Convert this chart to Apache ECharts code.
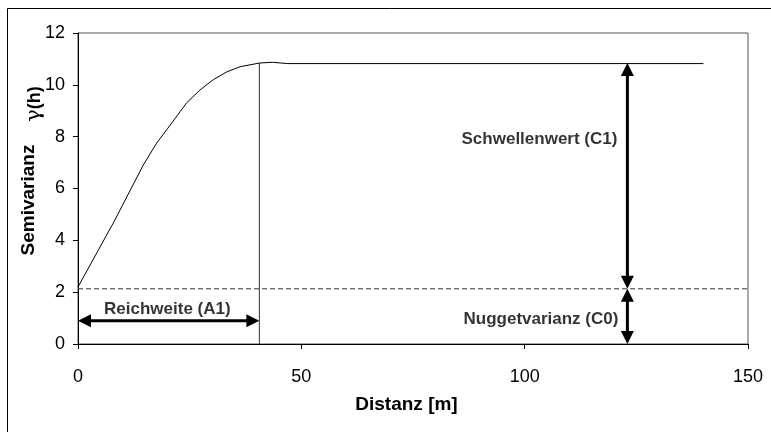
<!DOCTYPE html>
<html>
<head>
<meta charset="utf-8">
<script src="https://cdn.jsdelivr.net/npm/echarts@6/dist/echarts.min.js"></script>
<style>html,body{margin:0;padding:0;background:#fff;}#c{width:771px;height:432px;}</style>
</head>
<body>
<div id="c"></div>
<script>
// Data
const xTicks = [0, 50, 100, 150];
const yTicks = [0, 2, 4, 6, 8, 10, 12];
const distance = [0, 8, 14.6, 17.6, 20, 24.3, 27.3, 30.3, 33.3, 36.3, 40.6, 43.5, 47, 140];
const semivariance = [2.2, 4.7, 6.9, 7.75, 8.3, 9.3, 9.8, 10.2, 10.5, 10.7, 10.84, 10.87, 10.82, 10.82];
const nugget = 2.13;
const sill = 10.84;
const range = 40.6;
const arrowX = 123;
const rangeArrowY = 0.9;
// arrows: [x1, y1, x2, y2]
const arrows = [
  [0, rangeArrowY, range, rangeArrowY],
  [arrowX, nugget, arrowX, sill],
  [arrowX, 0, arrowX, nugget]
];
const labelTexts = ['Reichweite (A1)', 'Schwellenwert (C1)', 'Nuggetvarianz (C0)'];
const labelPos = [[20.0, 1.34], [arrowX, 7.88], [arrowX, 0.97]];

const chart = echarts.init(document.getElementById('c'), null, {renderer: 'canvas'});
const F = 'Arial, "Liberation Sans", sans-serif';

function arrowItem(params, api) {
  const p1 = api.coord([api.value(0), api.value(1)]);
  const p2 = api.coord([api.value(2), api.value(3)]);
  const dx = p2[0] - p1[0], dy = p2[1] - p1[1];
  const len = Math.sqrt(dx * dx + dy * dy);
  const ux = dx / len, uy = dy / len;
  const px = -uy, py = ux;
  const L = 13, W = 6.5;
  function head(tip, dir) {
    const bx = tip[0] - dir[0] * L, by = tip[1] - dir[1] * L;
    return {
      type: 'polygon',
      shape: {points: [tip, [bx + px * W, by + py * W], [bx - px * W, by - py * W]]},
      style: {fill: '#000'}
    };
  }
  return {
    type: 'group',
    children: [
      {type: 'line', shape: {x1: p1[0] + ux * L * 0.8, y1: p1[1] + uy * L * 0.8, x2: p2[0] - ux * L * 0.8, y2: p2[1] - uy * L * 0.8},
       style: {stroke: '#000', lineWidth: 3}},
      head(p1, [-ux, -uy]),
      head(p2, [ux, uy])
    ]
  };
}

const labelStyle = {fontFamily: F, fontSize: 17, fontWeight: 'bold', color: '#000'};

chart.setOption({
  animation: false,
  backgroundColor: '#fff',
  grid: {left: 78, right: 23, top: 33, bottom: 88, show: true, borderColor: '#555', borderWidth: 1},
  xAxis: {
    type: 'value', min: xTicks[0], max: xTicks[xTicks.length - 1], interval: 50,
    name: 'Distanz [m]', nameLocation: 'middle', nameGap: 51,
    nameTextStyle: {fontFamily: F, fontSize: 19, fontWeight: 'bold', color: '#000', padding: [0, 13, 0, 0]},
    axisLine: {show: true, lineStyle: {color: '#000', width: 1}},
    axisTick: {show: true, inside: false, length: 5, lineStyle: {color: '#000'}},
    axisLabel: {fontFamily: F, fontSize: 18, color: '#000', margin: 24},
    splitLine: {show: false}
  },
  yAxis: {
    type: 'value', min: yTicks[0], max: yTicks[yTicks.length - 1], interval: 2,
    axisLine: {show: true, lineStyle: {color: '#000', width: 1}},
    axisTick: {show: true, inside: false, length: 5, lineStyle: {color: '#000'}},
    axisLabel: {fontFamily: F, fontSize: 18, color: '#000', margin: 13},
    splitLine: {show: false}
  },
  graphic: [
    {type: 'rect', shape: {x: 7.5, y: 8.5, width: 800, height: 500}, style: {fill: 'none', stroke: '#000', lineWidth: 1}, silent: true, z: -10},
    {type: 'text', x: 29, y: 200, rotation: Math.PI / 2,
     style: {text: 'Semivarianz', font: 'bold 19px ' + F, fill: '#000', align: 'center', verticalAlign: 'middle'}},
    {type: 'text', x: 35, y: 104, rotation: Math.PI / 2,
     style: {text: '{g|γ}{b|(h)}', align: 'center', verticalAlign: 'middle',
       rich: {
         g: {fontFamily: '"DejaVu Serif", serif', fontSize: 21, fill: '#000', color: '#000'},
         b: {fontFamily: F, fontSize: 18, fontWeight: 'bold', fill: '#000', color: '#000'}
       }}}
  ],
  series: [
    {
      type: 'line', data: distance.map((d, i) => [d, semivariance[i]]),
      showSymbol: false, symbol: 'none', lineStyle: {color: '#000', width: 1}, z: 5
    },
    {
      type: 'line', data: [[range, 0], [range, sill]], showSymbol: false, symbol: 'none',
      lineStyle: {color: '#333', width: 1}
    },
    {
      type: 'line', data: [[xTicks[0], nugget], [xTicks[xTicks.length - 1], nugget]], showSymbol: false, symbol: 'none',
      lineStyle: {color: '#333', width: 1, type: [5, 3]}
    },
    {
      type: 'custom', renderItem: arrowItem, data: arrows, z: 6,
      encode: {x: [0, 2], y: [1, 3]}
    },
    {
      type: 'scatter', symbolSize: 0, z: 7,
      data: [
        {value: labelPos[0], name: labelTexts[0], label: Object.assign({position: 'inside'}, labelStyle)},
        {value: labelPos[1], name: labelTexts[1], label: Object.assign({position: 'left', distance: 10}, labelStyle)},
        {value: labelPos[2], name: labelTexts[2], label: Object.assign({position: 'left', distance: 9}, labelStyle)}
      ],
      label: Object.assign({show: true, formatter: '{b}'}, labelStyle),
      emphasis: {disabled: true}
    }
  ]
});
</script>
</body>
</html>
